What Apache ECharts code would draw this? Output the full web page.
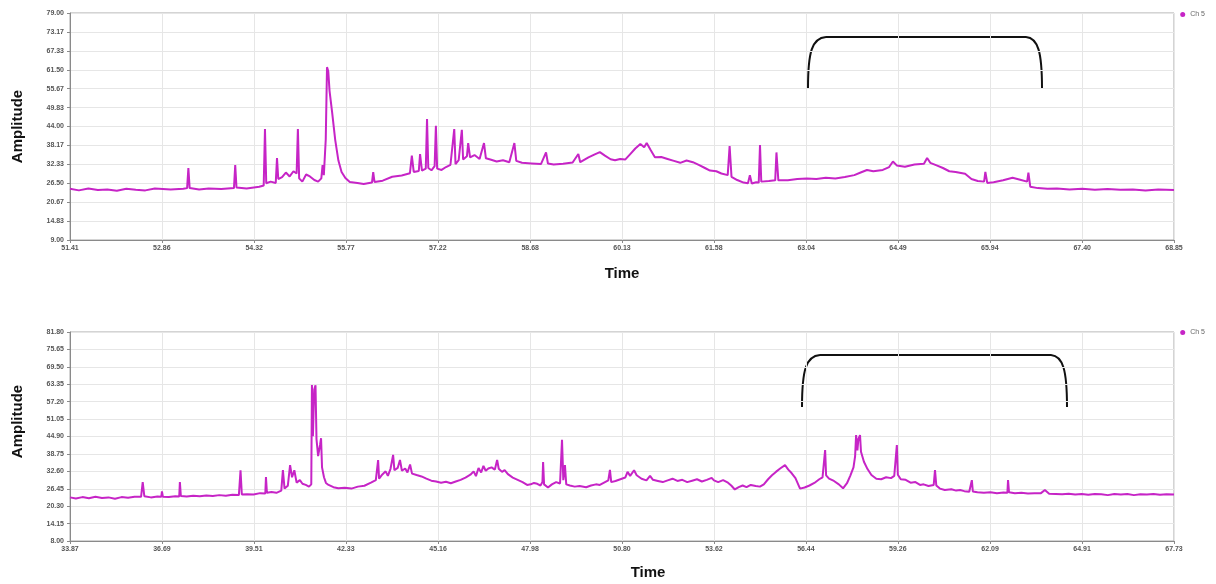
<!DOCTYPE html>
<html>
<head>
<meta charset="utf-8">
<script src="https://cdn.jsdelivr.net/npm/echarts@6/dist/echarts.min.js"></script>
<style>
  html, body { margin: 0; padding: 0; background: #fff; }
  #main { width: 1216px; height: 584px; }
</style>
</head>
<body>
<div id="main"></div>
<script>
// upper trace (Ch 5)
var topTime = [51.41, 51.55, 51.70, 51.85, 52.00, 52.15, 52.30, 52.45, 52.60, 52.75, 53.00, 53.20, 53.26, 53.28, 53.30, 53.45, 53.60, 53.80, 54.00, 54.02, 54.04, 54.20, 54.40, 54.47, 54.49, 54.51, 54.58, 54.66, 54.68, 54.70, 54.76, 54.82, 54.88, 54.94, 54.99, 55.01, 55.03, 55.08, 55.14, 55.20, 55.27, 55.33, 55.38, 55.40, 55.42, 55.45, 55.47, 55.49, 55.51, 55.55, 55.60, 55.65, 55.70, 55.76, 55.83, 55.95, 56.05, 56.18, 56.20, 56.22, 56.35, 56.50, 56.65, 56.78, 56.81, 56.84, 56.92, 56.94, 56.97, 57.03, 57.05, 57.07, 57.12, 57.17, 57.19, 57.21, 57.28, 57.35, 57.42, 57.48, 57.50, 57.55, 57.60, 57.62, 57.68, 57.70, 57.73, 57.80, 57.88, 57.95, 57.98, 58.05, 58.15, 58.25, 58.35, 58.43, 58.46, 58.55, 58.70, 58.85, 58.93, 58.96, 59.05, 59.20, 59.35, 59.44, 59.47, 59.60, 59.70, 59.78, 59.86, 59.95, 60.02, 60.10, 60.18, 60.26, 60.34, 60.42, 60.48, 60.52, 60.58, 60.65, 60.75, 60.85, 60.95, 61.05, 61.15, 61.25, 61.35, 61.44, 61.52, 61.62, 61.70, 61.80, 61.83, 61.86, 61.95, 62.05, 62.12, 62.15, 62.18, 62.25, 62.29, 62.31, 62.33, 62.45, 62.55, 62.57, 62.60, 62.75, 62.90, 63.05, 63.20, 63.35, 63.50, 63.65, 63.80, 63.90, 64.00, 64.10, 64.25, 64.35, 64.41, 64.47, 64.60, 64.75, 64.90, 64.95, 65.00, 65.10, 65.20, 65.30, 65.40, 65.55, 65.65, 65.75, 65.85, 65.87, 65.90, 66.00, 66.15, 66.30, 66.42, 66.53, 66.55, 66.58, 66.70, 66.85, 67.00, 67.20, 67.40, 67.60, 67.80, 68.00, 68.20, 68.40, 68.60, 68.85];
var topAmp = [24.8, 24.3, 24.9, 24.4, 24.6, 24.2, 24.8, 24.5, 24.3, 24.9, 24.6, 24.8, 25.0, 31.2, 25.0, 24.6, 24.9, 24.7, 25.0, 32.1, 25.2, 24.9, 25.4, 25.8, 43.2, 26.5, 27.0, 26.6, 34.3, 27.8, 28.4, 29.8, 28.6, 30.2, 29.5, 43.2, 28.0, 27.0, 29.2, 28.6, 27.5, 27.0, 28.0, 32.1, 29.0, 40.0, 62.3, 61.0, 55.0, 48.5, 39.8, 33.5, 30.0, 28.1, 26.9, 26.6, 26.3, 26.7, 29.9, 26.9, 27.3, 28.5, 28.9, 29.6, 35.0, 30.0, 30.3, 35.5, 30.4, 31.0, 46.3, 31.2, 30.5, 31.8, 44.2, 31.0, 30.6, 31.5, 32.2, 43.2, 32.4, 33.6, 43.0, 33.8, 34.8, 38.9, 34.5, 35.2, 34.0, 38.9, 34.2, 33.8, 33.2, 33.6, 33.0, 38.9, 33.4, 32.8, 32.6, 32.4, 36.0, 32.6, 32.3, 32.5, 32.9, 35.5, 33.0, 34.5, 35.4, 36.1, 35.0, 33.9, 33.6, 34.0, 33.8, 35.5, 37.2, 38.6, 37.6, 38.9, 36.8, 34.5, 34.6, 34.0, 33.4, 32.8, 33.5, 33.0, 32.1, 31.2, 30.4, 30.2, 29.5, 29.0, 38.0, 28.5, 27.5, 26.7, 26.5, 29.0, 26.4, 26.8, 26.7, 38.3, 27.0, 27.2, 27.4, 36.0, 27.4, 27.4, 27.8, 28.0, 27.8, 28.2, 28.0, 28.4, 29.0, 29.8, 30.6, 30.2, 30.6, 31.5, 33.2, 32.0, 31.6, 32.3, 32.5, 34.3, 32.8, 32.0, 31.2, 30.2, 30.0, 29.4, 27.8, 27.2, 27.0, 30.0, 26.6, 26.8, 27.4, 28.2, 27.6, 27.0, 29.8, 25.4, 25.0, 24.8, 24.9, 24.6, 24.8, 24.5, 24.7, 24.5, 24.6, 24.3, 24.6, 24.4];

// lower trace (Ch 5)
var bottomTime = [33.87, 34.05, 34.25, 34.45, 34.65, 34.85, 35.05, 35.25, 35.45, 35.65, 35.85, 36.05, 36.10, 36.15, 36.35, 36.55, 36.67, 36.69, 36.72, 36.90, 37.10, 37.22, 37.24, 37.27, 37.45, 37.65, 37.85, 38.05, 38.25, 38.45, 38.65, 38.85, 39.05, 39.10, 39.14, 39.30, 39.50, 39.70, 39.86, 39.88, 39.91, 40.05, 40.20, 40.35, 40.40, 40.45, 40.55, 40.62, 40.68, 40.75, 40.82, 40.92, 41.00, 41.10, 41.20, 41.27, 41.29, 41.32, 41.36, 41.40, 41.43, 41.48, 41.54, 41.57, 41.60, 41.66, 41.72, 41.80, 41.95, 42.10, 42.30, 42.50, 42.70, 42.90, 43.10, 43.25, 43.32, 43.35, 43.45, 43.55, 43.62, 43.70, 43.78, 43.82, 43.92, 43.99, 44.05, 44.15, 44.22, 44.30, 44.36, 44.50, 44.65, 44.80, 44.95, 45.10, 45.25, 45.40, 45.55, 45.70, 45.85, 46.00, 46.15, 46.25, 46.32, 46.40, 46.48, 46.55, 46.62, 46.70, 46.80, 46.90, 46.97, 47.02, 47.12, 47.20, 47.30, 47.45, 47.60, 47.75, 47.89, 48.00, 48.10, 48.20, 48.30, 48.36, 48.38, 48.41, 48.53, 48.65, 48.78, 48.90, 48.96, 49.00, 49.05, 49.09, 49.20, 49.35, 49.50, 49.70, 49.85, 50.00, 50.12, 50.25, 50.38, 50.43, 50.47, 50.60, 50.75, 50.90, 50.97, 51.05, 51.17, 51.25, 51.40, 51.55, 51.66, 51.75, 51.90, 52.05, 52.20, 52.35, 52.50, 52.65, 52.80, 52.95, 53.10, 53.25, 53.40, 53.55, 53.62, 53.75, 53.90, 54.05, 54.15, 54.26, 54.38, 54.50, 54.62, 54.75, 54.90, 55.03, 55.15, 55.28, 55.40, 55.52, 55.65, 55.80, 55.90, 56.00, 56.12, 56.26, 56.40, 56.55, 56.70, 56.85, 56.95, 57.00, 57.03, 57.06, 57.15, 57.30, 57.45, 57.58, 57.70, 57.80, 57.90, 57.95, 57.98, 58.02, 58.05, 58.10, 58.13, 58.22, 58.33, 58.45, 58.60, 58.75, 58.90, 59.05, 59.15, 59.20, 59.23, 59.26, 59.35, 59.50, 59.65, 59.80, 59.94, 60.05, 60.20, 60.36, 60.40, 60.44, 60.55, 60.70, 60.90, 61.05, 61.17, 61.30, 61.45, 61.51, 61.53, 61.56, 61.70, 61.90, 62.10, 62.30, 62.50, 62.62, 62.64, 62.67, 62.85, 63.05, 63.25, 63.45, 63.65, 63.77, 63.90, 64.10, 64.30, 64.50, 64.70, 64.90, 65.10, 65.30, 65.50, 65.70, 65.90, 66.10, 66.30, 66.50, 66.70, 66.90, 67.10, 67.30, 67.50, 67.73];
var bottomAmp = [23.4, 23.0, 23.5, 23.1, 23.6, 23.2, 23.4, 22.9, 23.5, 23.3, 23.6, 23.6, 28.8, 23.8, 23.4, 23.7, 23.6, 25.5, 23.6, 23.5, 23.8, 23.7, 28.8, 23.9, 23.7, 24.0, 23.8, 24.1, 23.9, 24.2, 24.0, 24.3, 24.2, 33.0, 24.4, 24.5, 24.4, 24.9, 24.8, 30.6, 25.0, 25.3, 25.0, 25.8, 33.0, 26.5, 27.5, 34.8, 30.5, 33.0, 28.6, 29.5, 28.2, 27.8, 27.2, 28.0, 63.1, 45.0, 61.5, 63.0, 44.0, 38.0, 42.0, 44.3, 34.0, 30.5, 28.5, 27.8, 27.0, 26.6, 26.8, 26.5, 27.2, 27.5, 28.6, 29.5, 36.6, 30.0, 31.5, 32.6, 31.0, 33.5, 38.4, 33.0, 33.8, 36.6, 32.8, 33.6, 32.2, 35.0, 31.8, 31.3, 30.8, 30.0, 29.3, 29.0, 28.6, 28.9, 28.4, 29.0, 29.6, 30.4, 31.4, 32.6, 30.9, 33.8, 32.2, 34.5, 32.8, 33.6, 34.0, 33.2, 36.6, 33.5, 32.4, 33.0, 31.6, 30.4, 29.6, 28.8, 27.8, 28.0, 28.5, 28.2, 27.6, 28.8, 35.9, 28.0, 26.9, 28.0, 28.8, 28.3, 43.7, 29.5, 34.8, 28.0, 27.6, 27.2, 27.4, 27.0, 27.6, 28.0, 27.8, 28.6, 29.4, 33.1, 28.8, 29.2, 29.8, 30.4, 32.4, 31.0, 33.0, 31.2, 30.0, 29.4, 31.0, 29.6, 29.2, 28.8, 29.4, 30.0, 29.2, 29.6, 28.8, 29.3, 29.8, 29.0, 29.6, 30.3, 29.4, 28.8, 29.5, 28.6, 27.6, 26.2, 27.0, 27.6, 27.0, 27.8, 27.4, 27.2, 28.0, 29.8, 31.2, 32.4, 33.6, 34.8, 33.2, 32.0, 30.2, 26.5, 26.9, 27.6, 28.5, 29.8, 30.5, 31.0, 40.1, 31.2, 30.0, 29.2, 28.0, 26.6, 28.4, 31.0, 34.0, 38.0, 45.4, 40.0, 44.0, 45.4, 39.5, 36.0, 33.4, 31.3, 30.0, 29.8, 30.5, 30.2, 31.0, 31.2, 41.9, 31.4, 29.8, 29.6, 28.6, 28.8, 27.8, 28.0, 27.4, 27.8, 33.0, 27.6, 26.5, 26.0, 26.3, 25.8, 26.0, 25.6, 25.4, 25.9, 29.5, 25.5, 25.2, 25.0, 25.2, 24.9, 25.1, 25.0, 29.5, 25.2, 24.9, 25.0, 24.8, 24.9, 24.9, 26.0, 24.7, 24.6, 24.5, 24.7, 24.4, 24.6, 24.3, 24.6, 24.5, 24.2, 24.6, 24.4, 24.6, 24.2, 24.5, 24.4, 24.6, 24.3, 24.5, 24.4];

// tick labels
var topXTicks = [51.41, 52.86, 54.32, 55.77, 57.22, 58.68, 60.13, 61.58, 63.04, 64.49, 65.94, 67.40, 68.85];
var topYTicks = [9.00, 14.83, 20.67, 26.50, 32.33, 38.17, 44.00, 49.83, 55.67, 61.50, 67.33, 73.17, 79.00];
var bottomXTicks = [33.87, 36.69, 39.51, 42.33, 45.16, 47.98, 50.80, 53.62, 56.44, 59.26, 62.09, 64.91, 67.73];
var bottomYTicks = [8.00, 14.15, 20.30, 26.45, 32.60, 38.75, 44.90, 51.05, 57.20, 63.35, 69.50, 75.65, 81.80];

var seriesName = 'Ch 5';
var lineColor = '#c624c6';

function zip(a, b) {
    return a.map(function (v, i) { return [v, b[i]]; });
}

function xAxisFor(idx, ticks, nameOffset, gap) {
    return {
        type: 'value',
        gridIndex: idx,
        min: ticks[0],
        max: ticks[ticks.length - 1],
        name: 'Time',
        nameLocation: 'middle',
        nameGap: gap,
        nameTextStyle: {
            fontSize: 15, fontWeight: 'bold', color: '#111',
            fontFamily: 'Liberation Sans', padding: [0, 0, 0, nameOffset]
        },
        axisLine: { show: true, lineStyle: { color: '#8a8a8a' } },
        axisTick: { show: true, length: 3, customValues: ticks, lineStyle: { color: '#8a8a8a' } },
        axisLabel: {
            customValues: ticks, fontSize: 7, color: '#555', margin: 5,
            fontFamily: 'Liberation Sans', fontWeight: 'bold',
            formatter: function (v) { return v.toFixed(2); }
        },
        splitLine: { show: true, lineStyle: { color: '#e6e6e6' } }
    };
}

function yAxisFor(idx, ticks, namePad) {
    return {
        type: 'value',
        gridIndex: idx,
        min: ticks[0],
        max: ticks[ticks.length - 1],
        name: 'Amplitude',
        nameLocation: 'middle',
        nameGap: 45,
        nameTextStyle: {
            fontSize: 15, fontWeight: 'bold', color: '#111',
            fontFamily: 'Liberation Sans', padding: namePad
        },
        axisLine: { show: true, lineStyle: { color: '#8a8a8a' } },
        axisTick: { show: true, length: 3, customValues: ticks, lineStyle: { color: '#8a8a8a' } },
        axisLabel: {
            customValues: ticks, fontSize: 7, color: '#555', margin: 6,
            fontFamily: 'Liberation Sans', fontWeight: 'bold',
            formatter: function (v) { return v.toFixed(2); }
        },
        splitLine: { show: true, lineStyle: { color: '#e6e6e6' } }
    };
}

// bracket marks drawn over the plots
function bracket(x0, x1, yTop, yEnd) {
    var s = { fill: null, stroke: '#111', lineWidth: 2 };
    return {
        type: 'group',
        children: [
            { type: 'bezierCurve', shape: { x1: x0, y1: yEnd, cpx1: x0, cpy1: yTop + 15, cpx2: x0 + 4, cpy2: yTop + 1, x2: x0 + 18, y2: yTop }, style: s },
            { type: 'line', shape: { x1: x0 + 18, y1: yTop, x2: x1 - 16, y2: yTop }, style: s },
            { type: 'bezierCurve', shape: { x1: x1 - 16, y1: yTop, cpx1: x1 - 4, cpy1: yTop + 1, cpx2: x1, cpy2: yTop + 15, x2: x1, y2: yEnd }, style: s }
        ]
    };
}

var chart = echarts.init(document.getElementById('main'));

var option = {
    animation: false,
    backgroundColor: '#fff',
    legend: [{
        data: [seriesName], right: 6, top: 6,
        icon: 'circle', itemWidth: 5, itemHeight: 5, itemGap: 3,
        textStyle: { fontSize: 7, color: '#666', fontFamily: 'Liberation Sans' }
    }, {
        data: [seriesName], right: 6, top: 324,
        icon: 'circle', itemWidth: 5, itemHeight: 5, itemGap: 3,
        textStyle: { fontSize: 7, color: '#666', fontFamily: 'Liberation Sans' }
    }],
    grid: [
        { left: 70, right: 42, top: 13, height: 227, show: true, borderColor: '#a8a8a8', borderWidth: 1 },
        { left: 70, right: 42, top: 332, height: 209, show: true, borderColor: '#a8a8a8', borderWidth: 1 }
    ],
    xAxis: [
        xAxisFor(0, topXTicks, 0, 26),
        xAxisFor(1, bottomXTicks, 52, 24)
    ],
    yAxis: [
        yAxisFor(0, topYTicks, [0, 0, 0, 0]),
        yAxisFor(1, bottomYTicks, [0, 0, 0, 30])
    ],
    series: [{
        name: seriesName, type: 'line', xAxisIndex: 0, yAxisIndex: 0,
        data: zip(topTime, topAmp), showSymbol: false,
        lineStyle: { color: lineColor, width: 2 }, itemStyle: { color: lineColor }
    }, {
        name: seriesName, type: 'line', xAxisIndex: 1, yAxisIndex: 1,
        data: zip(bottomTime, bottomAmp), showSymbol: false,
        lineStyle: { color: lineColor, width: 2 }, itemStyle: { color: lineColor }
    }],
    graphic: [
        bracket(808, 1042, 37, 88),
        bracket(802, 1067, 355, 407)
    ]
};

chart.setOption(option);
</script>
</body>
</html>
